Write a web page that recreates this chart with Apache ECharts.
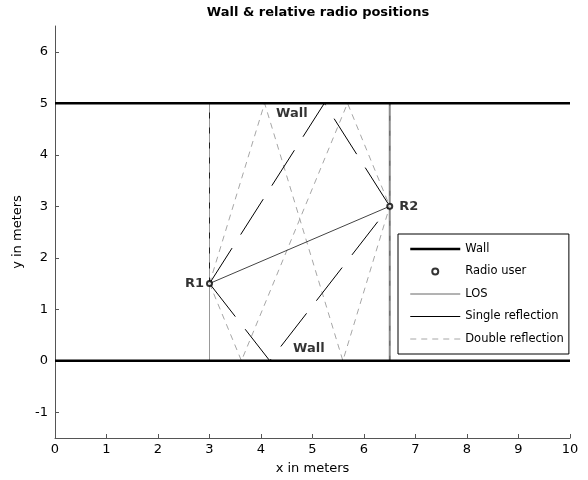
<!DOCTYPE html>
<html>
<head>
<meta charset="utf-8">
<style>
    html, body { margin: 0; padding: 0; background: #fff; }
    #chart { width: 588px; height: 480px; }
</style>
<script src="https://cdn.jsdelivr.net/npm/echarts@6/dist/echarts.min.js"></script>
</head>
<body>
<div id="chart"></div>
<script>
    // data (meters)
    var xTicks = [0, 1, 2, 3, 4, 5, 6, 7, 8, 9, 10];
    var yTicks = [-1, 0, 1, 2, 3, 4, 5, 6];
    var wallY = [0, 5];
    var wallX = [0, 10];
    var r1 = [3, 1.5];
    var r2 = [6.5, 3];
    var losPath = [[3, 1.5], [6.5, 3]];
    var singleTop = [[3, 1.5], [5.23, 5], [6.5, 3]];
    var singleBottom = [[3, 1.5], [4.17, 0], [6.5, 3]];
    var doubleBT = [[3, 1.5], [3.62, 0], [5.68, 5], [6.5, 3]];
    var doubleTB = [[3, 1.5], [4.07, 5], [5.59, 0], [6.5, 3]];
    var vertR1 = [[3, 0], [3, 5]];
    var vertR1Upper = [[3, 1.5], [3, 5]];
    var vertR2 = [[6.5, 0], [6.5, 5]];
    var wallLabels = [[4.6, 4.8, 'Wall'], [4.93, 0.24, 'Wall']];

    var font = 'DejaVu Sans, sans-serif';
    var myChart = echarts.init(document.getElementById('chart'));

    function lineSeries(name, data, style, z) {
        return {
            name: name,
            type: 'line',
            data: data,
            symbol: 'none',
            silent: true,
            animation: false,
            z: z || 2,
            itemStyle: {color: style.color},
            lineStyle: style
        };
    }

    var series = [];
    // helper verticals at the radio x positions (not in legend)
    series.push(lineSeries('v1', vertR1, {color: '#999', width: 1}, 1));
    series.push(lineSeries('v1b', vertR1Upper, {color: '#222', width: 1, type: [6, 9]}, 1));
    series.push(lineSeries('v2', vertR2, {color: '#8c8c8c', width: 2}, 1));
    series.push(lineSeries('v2b', vertR2, {color: '#666', width: 1, type: [5, 10]}, 1));

    wallY.forEach(function (y) {
        series.push(lineSeries('Wall', [[wallX[0], y], [wallX[1], y]], {color: '#000', width: 2.5}, 3));
    });
    series.push({
        name: 'Radio user',
        type: 'scatter',
        symbol: 'emptyCircle',
        symbolSize: 5,
        z: 5,
        itemStyle: {color: '#000', borderColor: '#000', borderWidth: 2},
        label: {
            show: true,
            formatter: '{b}',
            fontFamily: font,
            fontWeight: 'bold',
            fontSize: 13,
            color: '#000'
        },
        data: [
            {name: 'R1', value: r1, label: {position: 'left', distance: 2}},
            {name: 'R2', value: r2, label: {position: 'right', distance: 6}}
        ]
    });
    series.push(lineSeries('LOS', losPath, {color: '#444', width: 1}, 3));
    series.push(lineSeries('Single reflection', singleTop, {color: '#000', width: 1, type: [42, 16]}, 3));
    series.push(lineSeries('Single reflection', singleBottom, {color: '#000', width: 1, type: [42, 16]}, 3));
    series.push(lineSeries('Double reflection', doubleBT, {color: '#a6a6a6', width: 1, type: [6, 5]}, 2));
    series.push(lineSeries('Double reflection', doubleTB, {color: '#a6a6a6', width: 1, type: [6, 5]}, 2));
    series.push({
        name: 'labels',
        type: 'scatter',
        symbolSize: 0,
        silent: true,
        data: wallLabels,
        label: {
            show: true,
            position: 'inside',
            formatter: function (p) { return p.value[2]; },
            fontFamily: font,
            fontWeight: 'bold',
            fontSize: 13,
            color: '#000'
        }
    });

    var hideDot = {opacity: 0};
    var option = {
        animation: false,
        title: {
            text: 'Wall & relative radio positions',
            left: 313,
            textAlign: 'center',
            top: 1,
            textStyle: {fontFamily: font, fontSize: 13, fontWeight: 'bold', color: '#000'}
        },
        grid: {left: 55, right: 18, top: 26, bottom: 41},
        legend: {
            left: 398,
            top: 234,
            orient: 'vertical',
            backgroundColor: '#fff',
            borderColor: '#000',
            borderWidth: 1,
            padding: [9, 5, 9, 11],
            itemWidth: 50,
            itemHeight: 6,
            itemGap: 10.5,
            selectedMode: false,
            textStyle: {fontFamily: font, fontSize: 11.5, color: '#000'},
            data: [
                {name: 'Wall', itemStyle: hideDot, lineStyle: {width: 2.5}},
                {name: 'Radio user', icon: 'emptyCircle', itemStyle: {borderWidth: 1.5}},
                {name: 'LOS', itemStyle: hideDot, lineStyle: {width: 1, color: '#666'}},
                {name: 'Single reflection', itemStyle: hideDot, lineStyle: {type: 'solid', width: 1, color: '#000'}},
                {name: 'Double reflection', itemStyle: hideDot, lineStyle: {width: 1}}
            ]
        },
        xAxis: {
            type: 'value',
            min: xTicks[0],
            max: xTicks[xTicks.length - 1],
            interval: 1,
            name: 'x in meters',
            nameLocation: 'middle',
            nameGap: 24,
            nameTextStyle: {fontFamily: font, fontSize: 13, color: '#000'},
            axisLine: {onZero: false, lineStyle: {color: '#555'}},
            axisTick: {inside: true, length: 4, lineStyle: {color: '#555'}},
            axisLabel: {fontFamily: font, fontSize: 13, color: '#000', margin: 5},
            splitLine: {show: false}
        },
        yAxis: {
            type: 'value',
            min: -1.5,
            max: 6.5,
            name: 'y in meters',
            nameLocation: 'middle',
            nameGap: 30,
            nameTextStyle: {fontFamily: font, fontSize: 13, color: '#000'},
            axisLine: {show: true, onZero: false, lineStyle: {color: '#555'}},
            axisTick: {show: true, inside: true, length: 4, customValues: yTicks, lineStyle: {color: '#555'}},
            axisLabel: {fontFamily: font, fontSize: 13, color: '#000', margin: 7, customValues: yTicks},
            splitLine: {show: false}
        },
        series: series
    };
    myChart.setOption(option);
</script>
</body>
</html>
